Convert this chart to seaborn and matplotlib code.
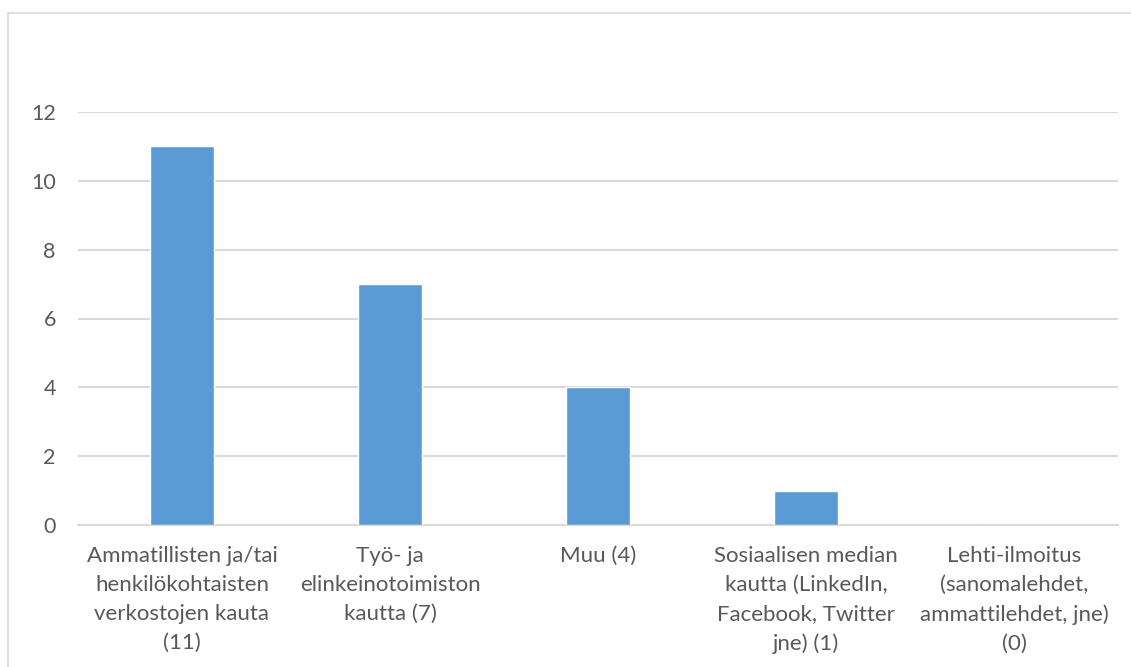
import matplotlib
matplotlib.use("Agg")
import matplotlib.pyplot as plt
from matplotlib.lines import Line2D
import seaborn as sns
import pandas as pd

categories = [
    "Ammatillisten ja/tai\nhenkilökohtaisten\nverkostojen kauta\n(11)",
    "Työ- ja\nelinkeinotoimiston\nkautta (7)",
    "Muu (4)",
    "Sosiaalisen median\nkautta (LinkedIn,\nFacebook, Twitter\njne) (1)",
    "Lehti-ilmoitus\n(sanomalehdet,\nammattilehdet, jne)\n(0)",
]
counts = [11, 7, 4, 1, 0]
y_ticks = [0, 2, 4, 6, 8, 10, 12]

df = pd.DataFrame({"kanava": categories, "lkm": counts})

sns.set_theme(style="white")
plt.rcParams["font.family"] = ["Lato", "DejaVu Sans"]

W, H = 1131, 667
fig = plt.figure(figsize=(W / 100, H / 100), dpi=100)
fig.patch.set_facecolor("white")
ax = fig.add_axes([78 / W, 1 - 525 / H, (1118 - 78) / W, (525 - 112) / H])

sns.barplot(data=df, x="kanava", y="lkm", color="#5b9bd5", saturation=1,
            width=0.31, ax=ax, zorder=3)

ax.set_ylim(0, 12)
ax.set_xlim(-0.5, len(categories) - 0.5)
ax.set_yticks(y_ticks)
ax.yaxis.grid(True, color="#d9d9d9", linewidth=1.5, zorder=0)
ax.set_axisbelow(True)
for s in ["top", "right", "left"]:
    ax.spines[s].set_visible(False)
ax.spines["bottom"].set_color("#d9d9d9")
ax.spines["bottom"].set_linewidth(1.5)
ax.set_xlabel("")
ax.set_ylabel("")
ax.tick_params(axis="y", length=0, pad=16, labelsize=15.5, labelcolor="#595959")
ax.tick_params(axis="x", length=0, pad=15, labelsize=16, labelcolor="#595959")
for lbl in ax.get_xticklabels():
    lbl.set_linespacing(1.56)
    lbl.set_horizontalalignment("center")

# chart frame
fig.add_artist(Line2D([8 / W, 1.0], [1 - 13 / H, 1 - 13 / H], color="#d9d9d9",
                      linewidth=1.2, transform=fig.transFigure))
fig.add_artist(Line2D([8 / W, 8 / W], [1 - 13 / H, 0.0], color="#d9d9d9",
                      linewidth=1.2, transform=fig.transFigure))

fig.savefig("out.png", dpi=100, facecolor="white")
